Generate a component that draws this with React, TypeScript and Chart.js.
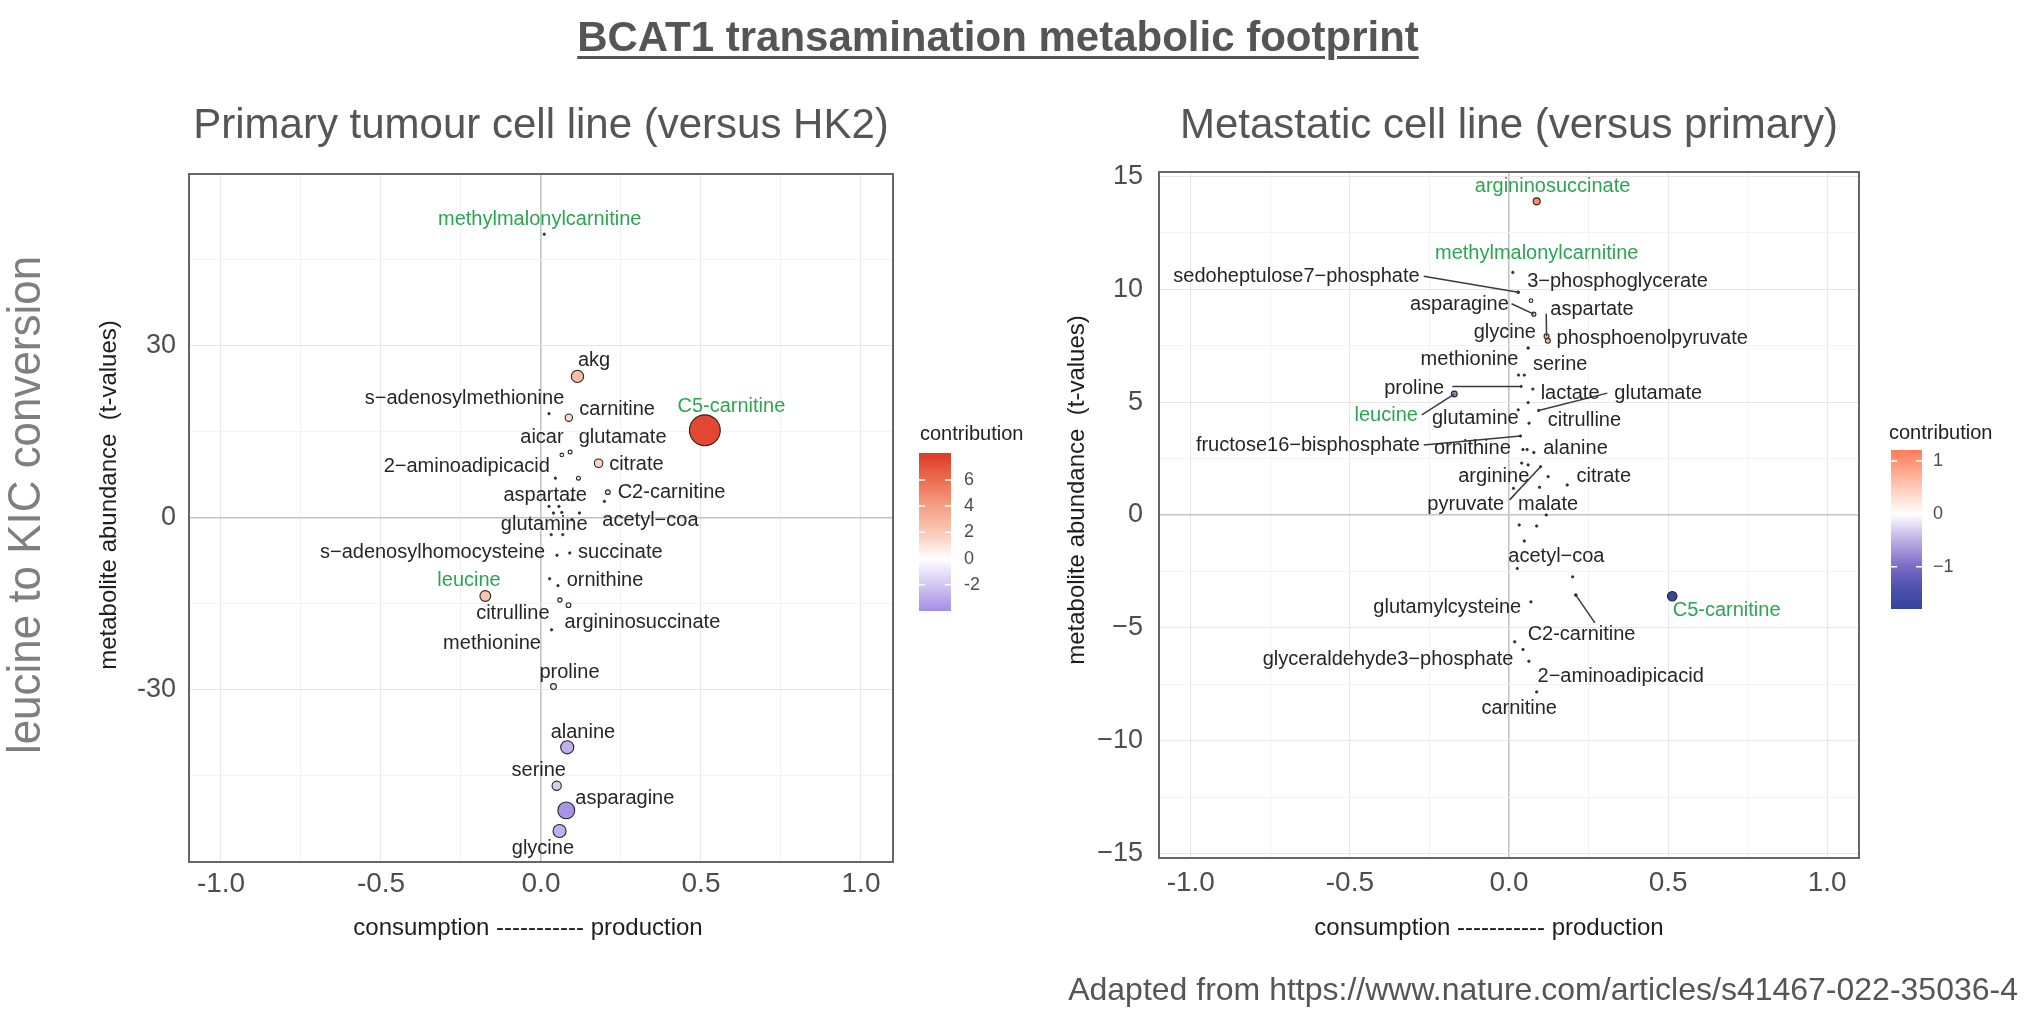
import React, { useEffect, useRef } from "react";
import { Chart, registerables } from "chart.js";

Chart.register(...registerables);

const FONT = "'Liberation Sans', Arial, Helvetica, sans-serif";

// ---------------- Primary tumour cell line (versus HK2) ----------------
const primaryNames = [
  "methylmalonylcarnitine", "akg", "s−adenosylmethionine", "carnitine", "C5-carnitine",
  "aicar", "glutamate", "citrate", "2−aminoadipicacid", "", "C2-carnitine", "acetyl−coa",
  "aspartate", "", "", "", "", "", "", "glutamine", "", "s−adenosylhomocysteine", "succinate",
  "", "ornithine", "leucine", "citrulline", "argininosuccinate", "methionine", "proline",
  "alanine", "serine", "asparagine", "glycine",
];
const primaryX = [
  0.01, 0.114, 0.025, 0.087, 0.512, 0.065, 0.091, 0.18, 0.045, 0.117, 0.209, 0.198,
  0.056, 0.025, 0.097, 0.12, 0.039, 0.065, 0.097, 0.032, 0.068, 0.05, 0.09,
  0.027, 0.053, -0.174, 0.059, 0.086, 0.033, 0.039, 0.082, 0.049, 0.079, 0.058,
];
const primaryY = [
  49.5, 24.7, 18.2, 17.5, 15.3, 11.0, 11.5, 9.55, 6.95, 6.95, 4.5, 2.9,
  2.03, 2.03, 3.18, 0.87, 0.87, 0.98, -0.29, -2.9, -2.9, -6.5, -6.1,
  -10.6, -11.8, -13.6, -14.3, -15.2, -19.5, -29.4, -40, -46.7, -51, -54.6,
];
const primaryContribution = [
  0, 2.6, 0, 1.3, 7.5, 0.3, 0.4, 1.6, 0, 0.4, 0.6, 0,
  0, 0, 0, 0, 0, 0, 0, 0, 0, 0, 0,
  0, 0, 2.2, 0.5, 0.6, 0, 0.9, -2.8, -1.8, -3.8, -2.8,
];
const primaryLabelX = [
  -0.004, 0.166, -0.239, 0.238, 0.595, 0.003, 0.255, 0.298, -0.232, null, 0.408, 0.342,
  0.013, null, null, null, null, null, null, 0.01, null, -0.339, 0.248,
  null, 0.2, -0.225, -0.088, 0.317, -0.153, 0.089, 0.131, -0.007, 0.262, 0.006,
];
const primaryLabelY = [
  52.1, 27.5, 20.8, 18.9, 19.5, 14.07, 14.07, 9.26, 8.97, null, 4.5, -0.4,
  3.88, null, null, null, null, null, null, -1.16, null, -5.96, -6.08,
  null, -10.94, -10.9, -16.7, -18.3, -21.9, -26.9, -37.4, -44.1, -48.9, -57.7,
];
const primaryHighlighted = ["methylmalonylcarnitine", "C5-carnitine", "leucine"];
const primaryXTicks = [-1.0, -0.5, 0.0, 0.5, 1.0];
const primaryYTicks = [-30, 0, 30];
const primaryLegendTicks = [6, 4, 2, 0, -2];
const primaryLegendLabels = ["6", "4", "2", "0", "-2"];
const primaryLegendRange = [-4, 8.05];
const primaryStopValues = [-4, -2, 0, 2, 4, 6, 8];
const primaryStopColors = ["#a48de3", "#d2c7f2", "#ffffff", "#f9c8b5", "#f49f85", "#eb6d50", "#de3a26"];

// ---------------- Metastatic cell line (versus primary) ----------------
const metastaticNames = [
  "argininosuccinate", "methylmalonylcarnitine", "sedoheptulose7−phosphate", "3−phosphoglycerate",
  "asparagine", "aspartate", "phosphoenolpyruvate", "glycine", "methionine", "serine", "proline",
  "lactate", "leucine", "", "glutamine", "glutamate", "citrulline", "fructose16−bisphosphate",
  "ornithine", "", "alanine", "", "arginine", "pyruvate", "", "", "malate", "citrate", "",
  "", "", "", "acetyl−coa", "", "C2-carnitine", "C5-carnitine", "glutamylcysteine", "",
  "glyceraldehyde3−phosphate", "2−aminoadipicacid", "carnitine",
];
const metastaticX = [
  0.087, 0.012, 0.029, 0.069,
  0.078, 0.118, 0.122, 0.06, 0.03, 0.048, 0.038,
  0.075, -0.172, 0.06, 0.029, 0.093, 0.063, 0.036,
  0.044, 0.057, 0.078, 0.04, 0.06, 0.099, 0.123, 0.014, 0.096, 0.183, 0.117,
  0.032, 0.087, 0.048, 0.026, 0.2, 0.21, 0.513, 0.069, 0.018,
  0.044, 0.0625, 0.087,
];
const metastaticY = [
  13.9, 10.75, 9.87, 9.5,
  8.9, 7.92, 7.72, 7.4, 6.2, 6.2, 5.7,
  5.58, 5.36, 4.98, 4.66, 4.63, 4.07, 3.5,
  2.9, 2.9, 2.77, 2.3, 2.22, 2.14, 1.7, 1.18, 1.23, 1.33, 0.0,
  -0.44, -0.49, -1.15, -2.37, -2.74, -3.55, -3.6, -3.85, -5.62,
  -5.96, -6.48, -7.84,
];
const metastaticContribution = [
  1.1, 0, 0.1, 0.3,
  0.4, 0.6, 0.6, 0.05, 0, 0, 0,
  0, -0.8, 0, 0, 0, 0, 0,
  0, 0, 0, 0, 0, 0, 0, 0, 0, 0, 0,
  0, 0, 0, 0, 0, 0.1, -1.7, 0, 0,
  0, 0, 0,
];
const metastaticLabelX = [
  0.137, 0.087, -0.668, 0.341,
  -0.156, 0.261, 0.45, -0.013, -0.124, 0.161, -0.298,
  0.192, -0.386, null, -0.106, 0.469, 0.237, -0.632,
  -0.115, null, 0.209, null, -0.048, -0.136, null, null, 0.123, 0.298, null,
  null, null, null, 0.149, null, 0.228, 0.684, -0.194, null,
  -0.38, 0.351, 0.032,
];
const metastaticLabelY = [
  14.54, 11.58, 10.58, 10.36,
  9.32, 9.1, 7.84, 8.1, 6.88, 6.66, 5.62,
  5.4, 4.41, null, 4.29, 5.4, 4.17, 3.08,
  2.96, null, 2.96, null, 1.7, 0.47, null, null, 0.47, 1.7, null,
  null, null, null, -1.85, null, -5.3, -4.25, -4.1, null,
  -6.4, -7.14, -8.58,
];
const metastaticHighlighted = ["argininosuccinate", "methylmalonylcarnitine", "leucine", "C5-carnitine"];
const metastaticSegmentNames = [
  "sedoheptulose7−phosphate", "asparagine", "aspartate", "proline", "leucine",
  "glutamate", "fructose16−bisphosphate", "pyruvate", "C2-carnitine",
];
const metastaticSegmentFromX = [-0.268, 0.008, 0.117, -0.178, -0.274, 0.309, -0.268, 0.002, 0.27];
const metastaticSegmentFromY = [10.58, 9.36, 8.92, 5.7, 4.44, 5.4, 3.1, 0.67, -4.78];
const metastaticXTicks = [-1.0, -0.5, 0.0, 0.5, 1.0];
const metastaticYTicks = [-15, -10, -5, 0, 5, 10, 15];
const metastaticLegendTicks = [1, 0, -1];
const metastaticLegendLabels = ["1", "0", "−1"];
const metastaticLegendRange = [-1.8, 1.21];
const metastaticStopValues = [-1.8, -1.4, -1, -0.5, 0, 0.5, 1, 1.21];
const metastaticStopColors = ["#34449a", "#4f50ae", "#7a6bc5", "#bcaee6", "#ffffff", "#ffcab7", "#ff9273", "#ff7c5c"];

// ---------------- helpers ----------------
function hexToRgb(h: string): number[] {
  const n = parseInt(h.slice(1), 16);
  return [(n >> 16) & 255, (n >> 8) & 255, n & 255];
}
function makeColorScale(values: number[], colors: string[]) {
  const rgb = colors.map(hexToRgb);
  const css = (c: number[]) => `rgb(${Math.round(c[0])},${Math.round(c[1])},${Math.round(c[2])})`;
  return (v: number) => {
    if (v <= values[0]) return css(rgb[0]);
    if (v >= values[values.length - 1]) return css(rgb[rgb.length - 1]);
    for (let i = 0; i < values.length - 1; i++) {
      if (v >= values[i] && v <= values[i + 1]) {
        const t = (v - values[i]) / (values[i + 1] - values[i]);
        return css(rgb[i].map((c, k) => c + (rgb[i + 1][k] - c) * t));
      }
    }
    return css(rgb[0]);
  };
}
function buildGridValues(major: number[], min: number, max: number) {
  const step = major[1] - major[0];
  const vals: number[] = major.slice();
  for (let v = major[0] - step / 2; v <= max + 1e-9; v += step) {
    if (v >= min - 1e-9) vals.push(Math.round(v * 1000) / 1000);
  }
  return Array.from(new Set(vals)).sort((a, b) => a - b);
}
const isIn = (arr: number[], v: number) => arr.some((m) => Math.abs(m - v) < 1e-6);

function drawText(ctx: CanvasRenderingContext2D, text: string, x: number, y: number, o: any) {
  ctx.save();
  ctx.translate(x, y);
  if (o.rotate) ctx.rotate(o.rotate);
  if (o.stretch) ctx.scale(o.stretch, 1);
  ctx.font = `${o.weight || "normal"} ${o.size}px ${FONT}`;
  ctx.fillStyle = o.color;
  ctx.textAlign = o.align || "center";
  ctx.textBaseline = o.baseline || "middle";
  ctx.fillText(text, 0, 0);
  ctx.restore();
}

type Panel = any;

const primaryPanel: Panel = {
  title: "Primary tumour cell line (versus HK2)",
  names: primaryNames, xs: primaryX, ys: primaryY, contrib: primaryContribution,
  labelX: primaryLabelX, labelY: primaryLabelY, highlighted: primaryHighlighted,
  segNames: [], segX: [], segY: [],
  xMajor: primaryXTicks, yMajor: primaryYTicks,
  xMin: -1.1, xMax: 1.1, yMin: -60, yMax: 60,
  yFormat: (v: number) => String(v),
  color: makeColorScale(primaryStopValues, primaryStopColors),
  radius: (c: number) => 1.2 + 1.9 * Math.abs(c),
  legendTicks: primaryLegendTicks, legendLabels: primaryLegendLabels, legendRange: primaryLegendRange,
  canvasW: 1040, axisW: 189, axisH: 157, rightPad: 147, titleTop: 100.8, titleBottom: 22.8,
  xTickPad: 5, yTickPad: 13,
  legend: { x: 919, w: 32, top: 453, bottom: 611, titleX: 920, titleY: 434, labelX: 964 },
  yTitleDX: 80, yTitleDY: 23, xTitleDX: 13, xTitleDY: 66,
  sideLabel: true,
};

const metastaticPanel: Panel = {
  title: "Metastatic cell line (versus primary)",
  names: metastaticNames, xs: metastaticX, ys: metastaticY, contrib: metastaticContribution,
  labelX: metastaticLabelX, labelY: metastaticLabelY, highlighted: metastaticHighlighted,
  segNames: metastaticSegmentNames, segX: metastaticSegmentFromX, segY: metastaticSegmentFromY,
  xMajor: metastaticXTicks, yMajor: metastaticYTicks,
  xMin: -1.1, xMax: 1.1, yMin: -15.2, yMax: 15.2,
  yFormat: (v: number) => (v < 0 ? "−" + Math.abs(v) : String(v)),
  color: makeColorScale(metastaticStopValues, metastaticStopColors),
  radius: (c: number) => 1.2 + 2.1 * Math.abs(c),
  legendTicks: metastaticLegendTicks, legendLabels: metastaticLegendLabels, legendRange: metastaticLegendRange,
  canvasW: 995, axisW: 119, axisH: 161, rightPad: 176, titleTop: 100.8, titleBottom: 20.8,
  xTickPad: 8, yTickPad: 16,
  legend: { x: 851, w: 31, top: 450, bottom: 609, titleX: 849, titleY: 433, labelX: 893 },
  yTitleDX: 82, yTitleDY: 25, xTitleDX: 20, xTitleDY: 70,
  sideLabel: false,
};

function decorPlugin(p: Panel) {
  return {
    id: "decor",
    afterDatasetsDraw(chart: any) {
      const ctx: CanvasRenderingContext2D = chart.ctx;
      const a = chart.chartArea;
      const xs = chart.scales.x;
      const ys = chart.scales.y;

      // leader segments
      ctx.save();
      ctx.strokeStyle = "#3a3a3a";
      ctx.lineWidth = 1.5;
      p.segNames.forEach((name: string, k: number) => {
        const i = p.names.indexOf(name);
        if (i < 0) return;
        ctx.beginPath();
        ctx.moveTo(xs.getPixelForValue(p.segX[k]), ys.getPixelForValue(p.segY[k]));
        ctx.lineTo(xs.getPixelForValue(p.xs[i]), ys.getPixelForValue(p.ys[i]));
        ctx.stroke();
      });
      ctx.restore();

      // point labels
      p.names.forEach((name: string, i: number) => {
        if (!name || p.labelX[i] === null) return;
        const green = p.highlighted.includes(name);
        drawText(ctx, name, xs.getPixelForValue(p.labelX[i]), ys.getPixelForValue(p.labelY[i]), {
          size: 20, color: green ? "#2ba552" : "#262626",
        });
      });

      // panel border
      ctx.save();
      ctx.strokeStyle = "#666666";
      ctx.lineWidth = 2;
      ctx.strokeRect(a.left, a.top, a.right - a.left, a.bottom - a.top);
      ctx.restore();

      // axis titles
      const midY = (a.top + a.bottom) / 2;
      const midX = (a.left + a.right) / 2;
      drawText(ctx, "metabolite abundance  (t-values)", a.left - p.yTitleDX, midY - p.yTitleDY, {
        size: 24, color: "#1e1e1e", rotate: -Math.PI / 2,
      });
      drawText(ctx, "consumption ----------- production", midX - p.xTitleDX, a.bottom + p.xTitleDY, {
        size: 24, color: "#1e1e1e",
      });

      // colour bar legend
      const lg = p.legend;
      const [lo, hi] = p.legendRange;
      drawText(ctx, "contribution", lg.titleX, lg.titleY, { size: 20, color: "#222222", align: "left" });
      const h = lg.bottom - lg.top;
      for (let py = 0; py < h; py++) {
        const v = hi - ((py + 0.5) / h) * (hi - lo);
        ctx.fillStyle = p.color(v);
        ctx.fillRect(lg.x, lg.top + py, lg.w, 1);
      }
      ctx.save();
      ctx.strokeStyle = "#ffffff";
      ctx.lineWidth = 1.5;
      p.legendTicks.forEach((t: number, k: number) => {
        const py = lg.top + ((hi - t) / (hi - lo)) * h;
        ctx.beginPath();
        ctx.moveTo(lg.x, py);
        ctx.lineTo(lg.x + 6, py);
        ctx.moveTo(lg.x + lg.w - 6, py);
        ctx.lineTo(lg.x + lg.w, py);
        ctx.stroke();
        drawText(ctx, p.legendLabels[k], lg.labelX, py, { size: 18, color: "#4d4d4d", align: "left" });
      });
      ctx.restore();

      if (p.sideLabel) {
        drawText(ctx, "leucine to KIC conversion", 27, 505, {
          size: 46, color: "#7f7f7f", rotate: -Math.PI / 2, stretch: 0.955,
        });
      }
    },
  };
}

function makeConfig(p: Panel): any {
  const xGrid = buildGridValues(p.xMajor, p.xMin, p.xMax);
  const yGrid = buildGridValues(p.yMajor, p.yMin, p.yMax);
  const gridColor = (major: number[]) => (c: any) => {
    const v = c.tick ? c.tick.value : NaN;
    if (Math.abs(v) < 1e-9) return "#c4c4c4";
    return isIn(major, v) ? "#e6e6e6" : "#f3f3f3";
  };
  const gridWidth = (c: any) => {
    const v = c.tick ? c.tick.value : NaN;
    return Math.abs(v) < 1e-9 ? 1.6 : 1.1;
  };
  return {
    type: "scatter",
    data: {
      datasets: [
        {
          data: p.xs.map((x: number, i: number) => ({ x, y: p.ys[i] })),
          pointRadius: (c: any) => p.radius(p.contrib[c.dataIndex]),
          pointBackgroundColor: (c: any) =>
            Math.abs(p.contrib[c.dataIndex]) < 0.2 ? "#3a3a3a" : p.color(p.contrib[c.dataIndex]),
          pointBorderColor: "#262626",
          pointBorderWidth: (c: any) => (Math.abs(p.contrib[c.dataIndex]) < 0.2 ? 0.8 : 1.1),
        },
      ],
    },
    options: {
      animation: false,
      responsive: false,
      events: [],
      layout: { padding: { left: 0, top: 0, right: p.rightPad, bottom: 0 } },
      plugins: {
        legend: { display: false },
        tooltip: { enabled: false },
        title: {
          display: true,
          text: p.title,
          color: "#555555",
          fullSize: false,
          font: { family: FONT, size: 42, weight: "normal", lineHeight: 1.2 },
          padding: { top: p.titleTop, bottom: p.titleBottom },
        },
      },
      scales: {
        x: {
          type: "linear",
          position: "bottom",
          min: p.xMin,
          max: p.xMax,
          afterBuildTicks: (ax: any) => {
            ax.ticks = xGrid.map((v) => ({ value: v }));
          },
          afterFit: (ax: any) => {
            ax.height = p.axisH;
          },
          ticks: {
            autoSkip: false,
            maxRotation: 0,
            padding: p.xTickPad,
            color: "#4d4d4d",
            font: { family: FONT, size: 28 },
            callback: (v: any) => (isIn(p.xMajor, Number(v)) ? Number(v).toFixed(1) : ""),
          },
          grid: { drawTicks: false, color: gridColor(p.xMajor), lineWidth: gridWidth },
          border: { display: false },
        },
        y: {
          type: "linear",
          position: "left",
          min: p.yMin,
          max: p.yMax,
          afterBuildTicks: (ax: any) => {
            ax.ticks = yGrid.map((v) => ({ value: v }));
          },
          afterFit: (ax: any) => {
            ax.width = p.axisW;
          },
          ticks: {
            autoSkip: false,
            padding: p.yTickPad,
            color: "#4d4d4d",
            font: { family: FONT, size: 27 },
            callback: (v: any) => (isIn(p.yMajor, Number(v)) ? p.yFormat(Number(v)) : ""),
          },
          grid: { drawTicks: false, color: gridColor(p.yMajor), lineWidth: gridWidth },
          border: { display: false },
        },
      },
    },
    plugins: [decorPlugin(p)],
  };
}

function PanelChart({ panel, left }: { panel: Panel; left: number }) {
  const ref = useRef<HTMLCanvasElement | null>(null);
  useEffect(() => {
    if (!ref.current) return;
    const chart = new Chart(ref.current, makeConfig(panel));
    return () => chart.destroy();
  }, [panel]);
  return (
    <canvas
      ref={ref}
      width={panel.canvasW}
      height={1019}
      style={{ position: "absolute", left, top: 0, width: panel.canvasW, height: 1019 }}
    />
  );
}

export default function App() {
  return (
    <div
      style={{
        position: "absolute",
        left: 0,
        top: 0,
        width: 2035,
        height: 1019,
        background: "#ffffff",
        overflow: "hidden",
        fontFamily: FONT,
      }}
    >
      <PanelChart panel={primaryPanel} left={0} />
      <PanelChart panel={metastaticPanel} left={1040} />
      <div
        style={{
          position: "absolute",
          left: 0,
          top: 16,
          width: 1996,
          textAlign: "center",
          fontSize: 42,
          lineHeight: "42px",
          fontWeight: "bold",
          color: "#555555",
          textDecoration: "underline",
          textDecorationThickness: "3px",
          textUnderlineOffset: "5px",
          whiteSpace: "nowrap",
        }}
      >
        BCAT1 transamination metabolic footprint
      </div>
      <div
        style={{
          position: "absolute",
          right: 17,
          top: 973,
          fontSize: 32,
          lineHeight: "32px",
          color: "#555555",
          whiteSpace: "nowrap",
        }}
      >
        Adapted from https://www.nature.com/articles/s41467-022-35036-4
      </div>
    </div>
  );
}
